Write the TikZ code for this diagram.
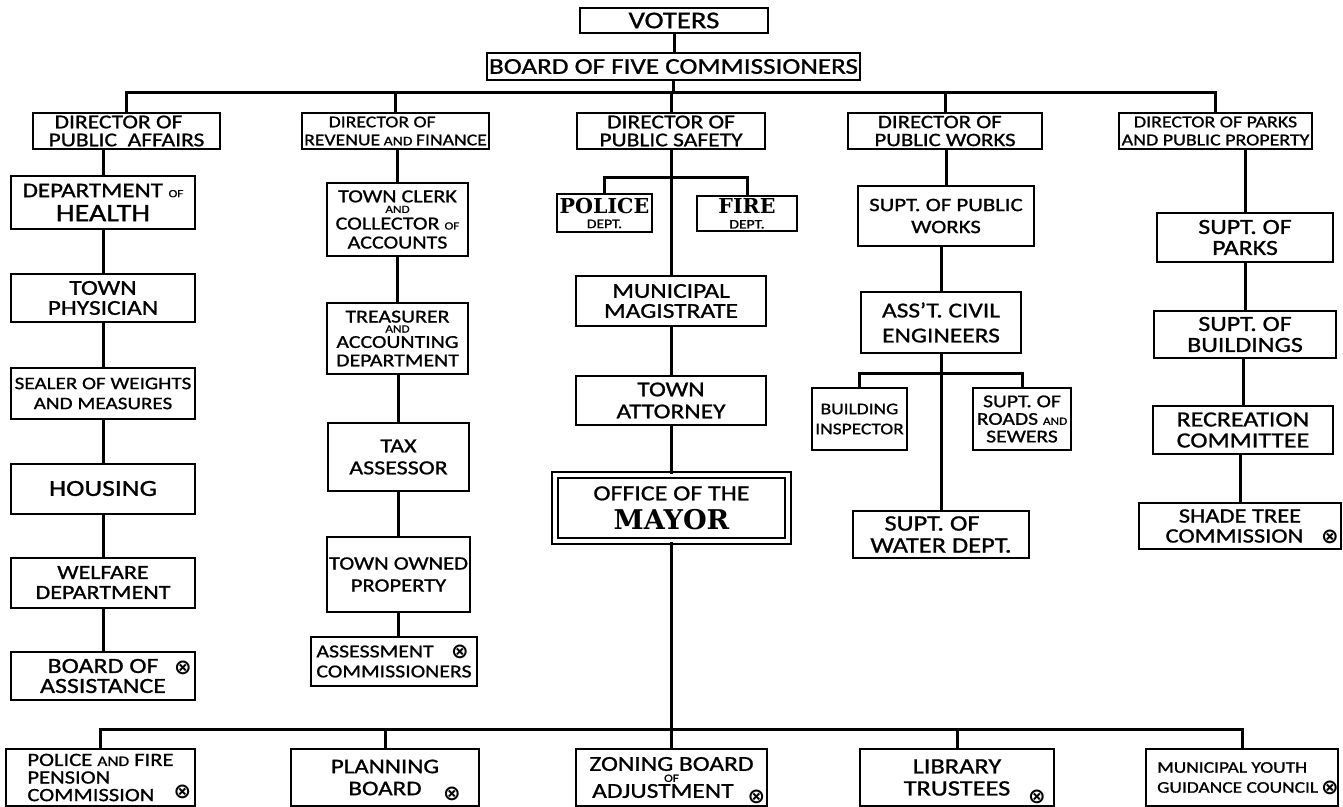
\documentclass[tikz,border=0pt]{standalone}
\usepackage{fontspec}
\setmainfont{Carlito}[FakeStretch=1.2,FakeBold=1]
\newfontfamily\slab{DejaVu Serif}
\newfontfamily\symf{DejaVu Sans}
\newcommand\fsz[2]{\fontsize{#1}{#2}\selectfont}
\newcommand\tn[1]{{\fsz{5.5}{5.5}#1}}
\newcommand\xm{{\symf\bfseries\fsz{10.5}{10.5}⊗}}
\begin{document}
\begin{tikzpicture}[x=0.5pt,y=-0.5pt,
  box/.style={draw, line width=1pt, align=center, inner sep=1pt, fill=white},
  sz/.style 2 args={minimum width=#1*0.5pt, minimum height=#2*0.5pt},
  ln/.style={line width=1.5pt},
  xmk/.style n args={3}{label={[name=#1,inner sep=0pt,anchor=center,xshift=#2*0.5pt,yshift=#3*0.5pt]center:\xm}}]
\fill[white] (0,0) rectangle (1343,807);
\useasboundingbox (0,0) rectangle (1343,807);

\coordinate (bus) at (0,93);
\coordinate (bbus) at (0,729);
\coordinate (sbr) at (671,178);
\coordinate (wbr) at (941,374);

% top
\node[box,sz={188}{25},font=\fsz{12}{12}] (voters) at (674,20.5) {VOTERS};
\node[box,sz={373}{27},font=\fsz{11.3}{12}] (board) at (673.5,66.5) {BOARD\ OF FIVE\ COMMISSIONERS};

% directors
\node[box,sz={187}{36},font=\fsz{9.8}{9}] (d1) at (126.5,131) {DIRECTOR OF\ \ \ \ \\PUBLIC\ \ AFFAIRS};
\node[box,sz={187}{36},font=\fsz{8.2}{9}] (d2) at (395.5,131) {DIRECTOR OF\ \ \ \ \ \ \ \\REVENUE{\fsz{6.5}{6.5} AND }FINANCE};
\node[box,sz={188}{36},font=\fsz{9.8}{9}] (d3) at (671,131) {DIRECTOR OF\\PUBLIC SAFETY};
\node[box,sz={194}{36},font=\fsz{9.5}{9}] (d4) at (945,131) {DIRECTOR OF\ \ \ \\PUBLIC WORKS};
\node[box,sz={193}{36},font=\fsz{8.3}{9}] (d5) at (1215.5,131) {DIRECTOR OF PARKS\\AND PUBLIC PROPERTY};

% column 1
\node[box,sz={184}{53},font=\fsz{10.4}{12}] (health) at (103,202.5) {DEPARTMENT \tn{OF}\\{\fsz{12.5}{12.5}HEALTH}};
\node[box,sz={184}{48},font=\fsz{10.6}{10}] (physician) at (103,298) {TOWN\\PHYSICIAN};
\node[box,sz={184}{51},font=\fsz{8.8}{10}] (sealer) at (103,393.5) {SEALER OF WEIGHTS\\AND MEASURES};
\node[box,sz={184}{50},font=\fsz{11.5}{12}] (housing) at (103,488.5) {HOUSING};
\node[box,sz={184}{50},font=\fsz{10}{10}] (welfare) at (103,582.5) {WELFARE\\DEPARTMENT};
\node[box,sz={184}{48},font=\fsz{10.8}{10},xmk={xa}{80}{8}] (assist) at (103,676) {BOARD OF\\ASSISTANCE};

% column 2
\node[box,sz={141}{73},font=\fsz{9.2}{9.5}] (clerk) at (397.5,219.5) {TOWN CLERK\\[-4.2pt]\tn{AND}\\[-1.2pt]COLLECTOR \tn{OF}\\ACCOUNTS};
\node[box,sz={141}{71},font=\fsz{9.1}{9.2}] (treasurer) at (397.5,338.5) {TREASURER\\[-4.2pt]\tn{AND}\\[-1.5pt]ACCOUNTING\\DEPARTMENT};
\node[box,sz={141}{68},font=\fsz{10}{11}] (tax) at (398.5,457) {TAX\\ASSESSOR};
\node[box,sz={139}{75},font=\fsz{9.4}{11}] (property) at (398.5,574.5) {TOWN OWNED\\PROPERTY};
\node[box,sz={166}{49},font=\fsz{9.1}{10},align=left,xmk={xb}{66}{9.5}] (assessment) at (394,661.5) {ASSESSMENT\\COMMISSIONERS};

% column 3
\node[box,sz={95}{38},font=\slab\bfseries\fsz{10.3}{7.5}] (police) at (604.5,213) {POLICE\\{\rmfamily\mdseries\fsz{6.5}{6.5}DEPT.}};
\node[box,sz={100}{35},font=\slab\bfseries\fsz{10.3}{7.5}] (fire) at (747,213.5) {FIRE\\{\rmfamily\mdseries\fsz{6.5}{6.5}DEPT.}};
\node[box,sz={190}{50},font=\fsz{10.6}{10}] (magistrate) at (671,301) {MUNICIPAL\\MAGISTRATE};
\node[box,sz={190}{49},font=\fsz{10.6}{11}] (attorney) at (671,400.5) {TOWN\\ATTORNEY};
\node[box,sz={233}{66},font=\fsz{10.8}{14.5},line width=1.1pt,double=white,double distance=1.6pt] (mayor) at (671.5,508) {OFFICE OF THE\\{\slab\bfseries\fsz{13.6}{13.6}MAYOR}};

% column 4
\node[box,sz={176}{60},font=\fsz{9.5}{11}] (spw) at (946,216) {SUPT. OF PUBLIC\\WORKS};
\node[box,sz={160}{61},font=\fsz{10.6}{12.5}] (asst) at (941,322.5) {ASS'T. CIVIL\\ENGINEERS};
\node[box,sz={95}{61},font=\fsz{8.1}{10}] (bi) at (859.5,419) {BUILDING\\INSPECTOR};
\node[box,sz={98}{61},font=\fsz{9}{8.8}] (rs) at (1022,419) {SUPT. OF\\ROADS \tn{AND}\\SEWERS};
\node[box,sz={176}{47},font=\fsz{11}{11}] (water) at (941,534.5) {SUPT. OF\ \ \ \ \\WATER DEPT.};

% column 5
\node[box,sz={176}{49},font=\fsz{10.8}{10.5}] (parks) at (1245,237.5) {SUPT. OF\\PARKS};
\node[box,sz={182}{47},font=\fsz{10.8}{10.5}] (bldgs) at (1245,334.5) {SUPT. OF\\BUILDINGS};
\node[box,sz={180}{48},font=\fsz{10.8}{10.5}] (recr) at (1243,430) {RECREATION\\COMMITTEE};
\node[box,sz={202}{46},font=\fsz{10.2}{10},xmk={xc}{90}{-11}] (shade) at (1240,526) {SHADE TREE\\COMMISSION\ \ \ };

% bottom row
\node[box,sz={189}{57},font=\fsz{9.4}{8.8},align=left,xmk={xd}{82}{-14}] (pension) at (100.5,777.5) {POLICE {\fsz{7.2}{7.2}AND} FIRE\\PENSION\\COMMISSION\ \ };
\node[box,sz={188}{57},font=\fsz{10.4}{11},xmk={xe}{67}{-16}] (planning) at (385,777.5) {PLANNING\\BOARD};
\node[box,sz={191}{57},font=\fsz{10.6}{10},xmk={xf}{85}{-19}] (zoning) at (671.5,777.5) {ZONING BOARD\\[-4.5pt]\tn{OF}\\[-2pt]ADJUSTMENT\ \ \ \ };
\node[box,sz={194}{57},font=\fsz{11}{11},xmk={xg}{80}{-19}] (library) at (957,777.5) {LIBRARY\\TRUSTEES};
\node[box,sz={192}{57},font=\fsz{8.1}{10},align=left,xmk={xh}{88}{-10}] (youth) at (1242,777.5) {MUNICIPAL YOUTH\\GUIDANCE COUNCIL\ \ \ };

% connectors
\draw[ln] (voters.south) -- (voters.south |- board.north);
\draw[ln] (board.south) -- (board.south |- bus);
\draw[ln] (d1.north) -- (d1.north |- bus) -- (d5.north |- bus) -- (d5.north);
\draw[ln] (d2.north) -- (d2.north |- bus);
\draw[ln] (d3.north) -- (d3.north |- bus);
\draw[ln] (d4.north) -- (d4.north |- bus);

\draw[ln] (health.north) -- (health.north |- d1.south);
\draw[ln] (physician.north) -- (physician.north |- health.south);
\draw[ln] (sealer.north) -- (sealer.north |- physician.south);
\draw[ln] (housing.north) -- (housing.north |- sealer.south);
\draw[ln] (welfare.north) -- (welfare.north |- housing.south);
\draw[ln] (assist.north) -- (assist.north |- welfare.south);

\draw[ln] (clerk.north) -- (clerk.north |- d2.south);
\draw[ln] (treasurer.north) -- (treasurer.north |- clerk.south);
\draw[ln] (tax.north) -- (tax.north |- treasurer.south);
\draw[ln] (property.north) -- (property.north |- tax.south);
\draw[ln] (assessment.north -| property.south) -- (property.south);

\draw[ln] (magistrate.north) -- (magistrate.north |- d3.south);
\draw[ln] (police.north) |- (sbr) -| (fire.north);
\draw[ln] (attorney.north) -- (attorney.north |- magistrate.south);
\draw[ln] (mayor.north) -- (mayor.north |- attorney.south);
\draw[ln] (zoning.north) -- (zoning.north |- mayor.south);

\draw[ln] (pension.north) -- (pension.north |- bbus) -- (youth.north |- bbus) -- (youth.north);
\draw[ln] (planning.north) -- (planning.north |- bbus);
\draw[ln] (library.north) -- (library.north |- bbus);

\draw[ln] (spw.north) -- (spw.north |- d4.south);
\draw[ln] (asst.north) -- (asst.north |- spw.south);
\draw[ln] (water.north) -- (water.north |- asst.south);
\draw[ln] (bi.north) |- (wbr) -| (rs.north);

\draw[ln] (parks.north) -- (parks.north |- d5.south);
\draw[ln] (bldgs.north) -- (bldgs.north |- parks.south);
\draw[ln] (recr.north) -- (recr.north |- bldgs.south);
\draw[ln] (shade.north) -- (shade.north |- recr.south);
\end{tikzpicture}
\end{document}
